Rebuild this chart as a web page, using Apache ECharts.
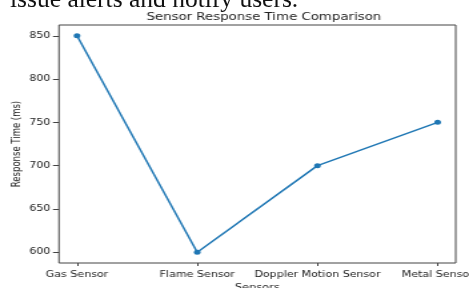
<!DOCTYPE html>
<html>
<head>
<meta charset="utf-8">
<script src="https://cdn.jsdelivr.net/npm/echarts@6/dist/echarts.min.js"></script>
<style>
    html, body { margin: 0; padding: 0; background: #fff; overflow: hidden; }
    #wrap { position: relative; width: 469px; height: 288px; overflow: hidden; }
    /* the source image is stretched sideways, so the chart is drawn narrow and scaled */
    #chart { position: absolute; left: 0; top: 0; width: 352px; height: 288px;
             transform: scaleX(1.3324); transform-origin: 0 0; }
    #above { position: absolute; left: 10px; top: -16px; font: 25.5px "Liberation Serif", serif;
             color: #111; white-space: nowrap; }
</style>
</head>
<body>
<div id="wrap">
    <div id="chart"></div>
    <div id="above">issue alerts and notify users.</div>
</div>
<script>
const sensors = ['Gas Sensor', 'Flame Sensor', 'Doppler Motion Sensor', 'Metal Sensor'];
const responseTimes = [850, 600, 700, 750];
const yTicks = [600, 650, 700, 750, 800, 850];
const xTicks = [0, 1, 2, 3];

const textColor = '#222';
const font = 'DejaVu Sans';

const chart = echarts.init(document.getElementById('chart'), null, { renderer: 'canvas' });

chart.setOption({
    animation: false,
    title: {
        text: 'Sensor Response Time Comparison',
        left: 193,
        top: 7,
        textAlign: 'center',
        textStyle: { fontFamily: font, fontSize: 10, fontWeight: 'normal', color: textColor }
    },
    grid: {
        left: 44.25,
        right: 10,
        top: 25,
        bottom: 25,
        outerBoundsMode: 'none',
        containLabel: false,
        show: true,
        borderColor: '#444',
        borderWidth: 1
    },
    xAxis: {
        type: 'value',
        min: -0.15,
        max: 3.15,
        name: 'Sensors',
        nameLocation: 'middle',
        nameGap: 20,
        nameMoveOverlap: false,
        nameTextStyle: { fontFamily: font, fontSize: 8.5, color: textColor },
        axisLine: { show: false, onZero: false },
        axisTick: { show: true, length: 3, customValues: xTicks, lineStyle: { color: '#444' } },
        axisLabel: {
            customValues: xTicks,
            margin: 7.5,
            fontFamily: font,
            fontSize: 8.3,
            color: textColor,
            formatter: function (value) {
                return sensors[Math.round(value)] || '';
            }
        },
        splitLine: { show: false }
    },
    yAxis: {
        type: 'value',
        min: 587.5,
        max: 862.5,
        name: 'Response Time (ms)',
        nameLocation: 'middle',
        nameGap: 26.5,
        nameMoveOverlap: false,
        nameTextStyle: { fontFamily: font, fontSize: 8.5, color: textColor },
        axisLine: { show: false, onZero: false },
        axisTick: { show: true, length: 4.5, customValues: yTicks, lineStyle: { color: '#444' } },
        axisLabel: {
            customValues: yTicks,
            margin: 6.5,
            fontFamily: font,
            fontSize: 8.3,
            color: textColor
        },
        splitLine: { show: false }
    },
    series: [
        {
            type: 'line',
            data: responseTimes.map(function (v, i) { return [i, v]; }),
            symbol: 'circle',
            symbolSize: 5,
            lineStyle: { color: '#1f77b4', width: 1.5 },
            itemStyle: { color: '#1f77b4' }
        }
    ]
});
</script>
</body>
</html>
